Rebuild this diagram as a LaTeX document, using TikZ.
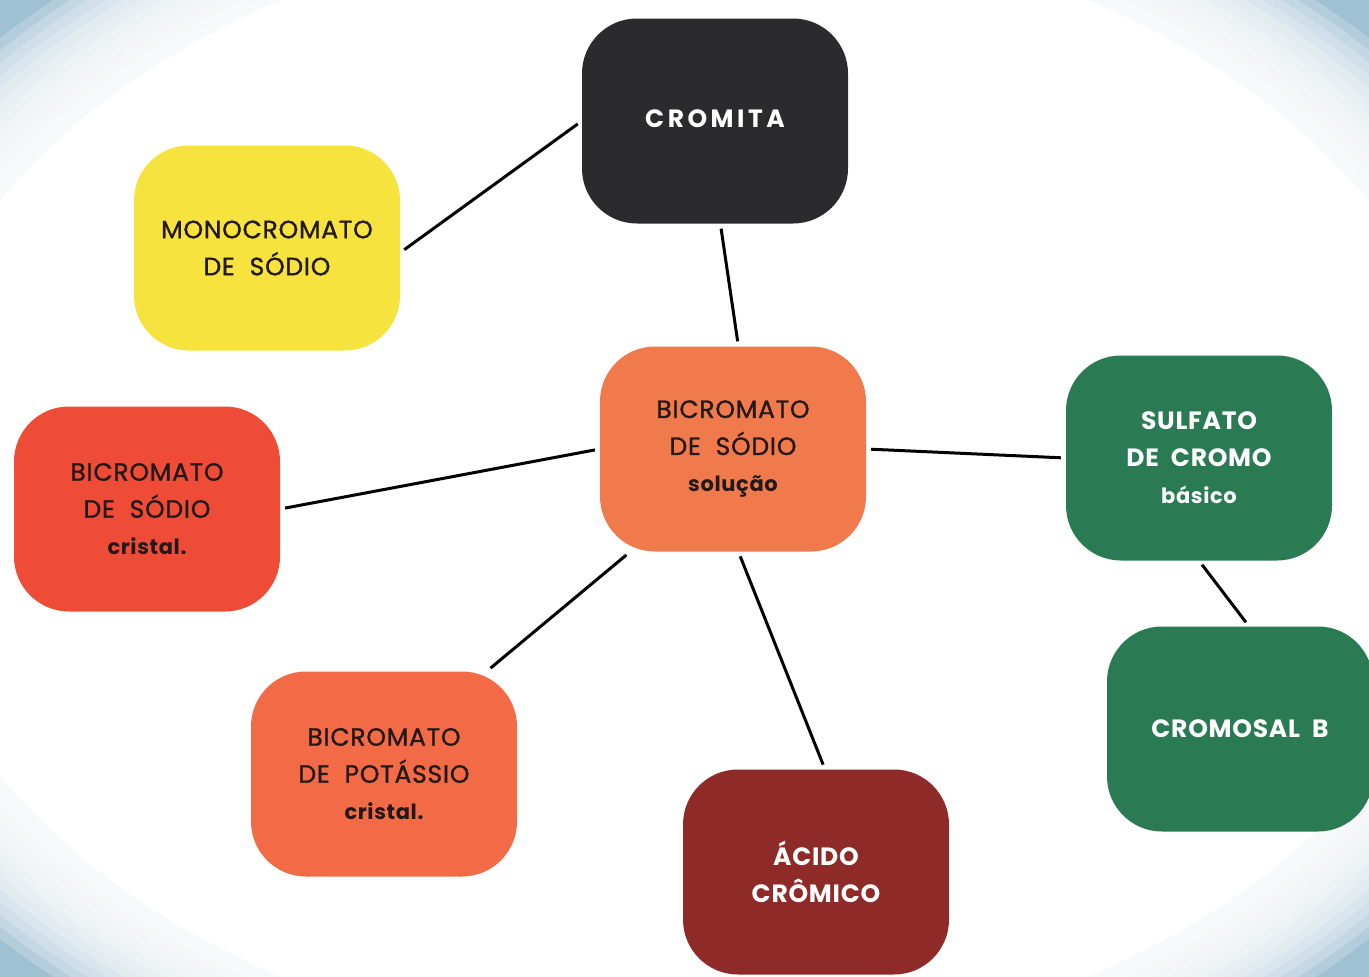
\documentclass[tikz,border=0pt]{standalone}
\usepackage{fontspec}
\setmainfont{Poppins}[LetterSpace=3]
\newfontfamily\medfont{Poppins}[LetterSpace=3, FakeBold=1.1]
\newfontfamily\spacedfont{Poppins}[LetterSpace=14]

\definecolor{bgblue}{RGB}{160,192,212}
\definecolor{inkblack}{RGB}{43,42,45}
\definecolor{yellowbox}{RGB}{246,227,62}
\definecolor{orangebox}{RGB}{241,122,76}
\definecolor{redbox}{RGB}{238,76,55}
\definecolor{potbox}{RGB}{243,107,70}
\definecolor{greenbox}{RGB}{42,123,84}
\definecolor{acidbox}{RGB}{142,42,40}
\definecolor{darktext}{RGB}{35,25,25}

\begin{document}
\begin{tikzpicture}[x=1pt, y=-1pt,
    box/.style={rounded corners=55pt, minimum width=266pt, minimum height=205pt,
      inner sep=0pt, align=center, font=\fontsize{25}{37}\selectfont},
    link/.style={line width=3pt, shorten <=5pt, shorten >=5pt}]
    \useasboundingbox (0,0) rectangle (1369,977);
    \clip (0,0) rectangle (1369,977);
    % pale blue vignette round the edge
    \fill[bgblue] (0,0) rectangle (1369,977);
    \foreach \k in {0,...,11}
      \fill[white, fill opacity=0.22] (684.5,488.5)
        ellipse ({684.5*(1.36-0.017*\k)} and {488.5*(1.36-0.017*\k)});
    \fill[white] (684.5,488.5) ellipse ({684.5*1.16} and {488.5*1.16});

    \node[box, fill=inkblack, text=white] (cromita) at (715,121)
      {\raisebox{5pt}{\spacedfont\bfseries CROMITA}};
    \node[box, fill=yellowbox, text=darktext] (mono) at (267,248)
      {\medfont MONOCROMATO\\\medfont DE~~SÓDIO};
    \node[box, fill=orangebox, text=darktext] (bicrom) at (733,449)
      {\medfont BICROMATO\\\medfont DE~~SÓDIO\\{\fontsize{21}{37}\selectfont\bfseries solução}};
    \node[box, fill=redbox, text=darktext] (cristal) at (147,509)
      {\medfont BICROMATO\\\medfont DE~~SÓDIO\\{\fontsize{21}{37}\selectfont\bfseries cristal.}};
    \node[box, fill=greenbox, text=white] (sulfato) at (1199,458)
      {\bfseries SULFATO\\\bfseries DE~~CROMO\\{\fontsize{21}{37}\selectfont\bfseries básico}};
    \node[box, fill=greenbox, text=white] (cromosal) at (1240,729)
      {\bfseries CROMOSAL~~B};
    \node[box, fill=potbox, text=darktext] (potassio) at (384,774)
      {\medfont BICROMATO\\\medfont DE~~POTÁSSIO\\{\fontsize{21}{37}\selectfont\bfseries cristal.}};
    \node[box, fill=acidbox, text=white] (acido) at (816,872)
      {\bfseries ÁCIDO\\\bfseries CRÔMICO};

    \draw[link] (cromita.west) -- (mono.-2);
    \draw[link] (cromita.-87) -- (bicrom.87);
    \draw[link] (bicrom.west) -- (cristal.east);
    \draw[link] (bicrom.east) -- (sulfato.west);
    \draw[link] (bicrom.-135) -- (potassio.45);
    \draw[link] (bicrom.-87) -- (acido.85);
    \draw[link] (sulfato.south) -- (cromosal.85);
\end{tikzpicture}
\end{document}
